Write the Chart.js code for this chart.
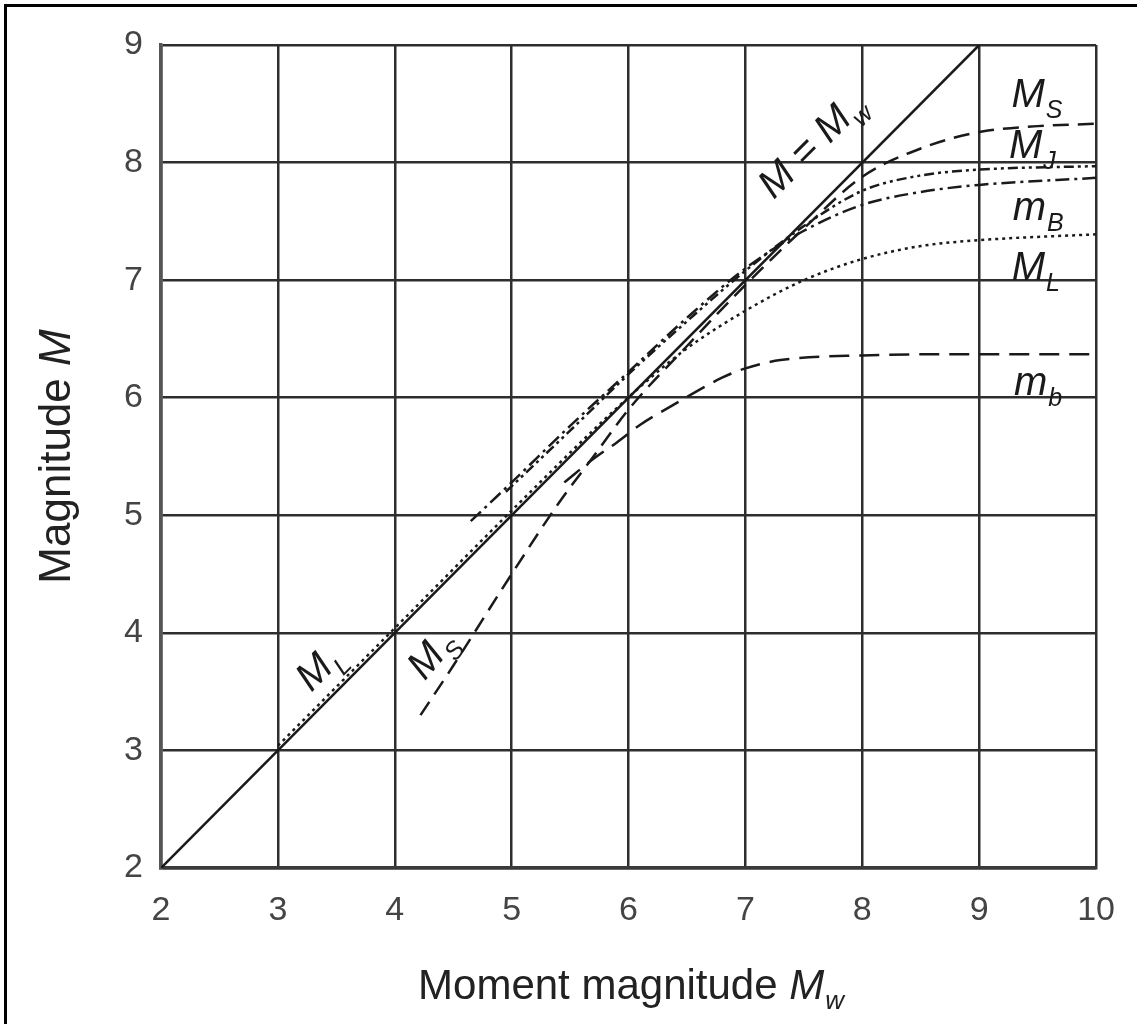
<!DOCTYPE html>
<html>
<head>
<meta charset="utf-8">
<title>Magnitude saturation</title>
<script src="https://cdn.jsdelivr.net/npm/chart.js@4.4.1/dist/chart.umd.min.js"></script>
<style>
  html, body { margin: 0; padding: 0; background: #fff; }
  #wrap { position: relative; width: 1137px; height: 1024px; }
  #frame { position: absolute; left: 4px; top: 4px; right: 0; bottom: 0;
           border-left: 3px solid #000; border-top: 3px solid #000; pointer-events: none; }
  canvas { display: block; }
</style>
</head>
<body>
<div id="wrap">
  <canvas id="chart" width="1137" height="1024"></canvas>
  <div id="frame"></div>
</div>
<script>
// ---- axis ticks ----
const xTicks = [2, 3, 4, 5, 6, 7, 8, 9, 10];
const yTicks = [2, 3, 4, 5, 6, 7, 8, 9];

// ---- curves (x = moment magnitude Mw, y = magnitude M) ----
// M = Mw reference
const mwX = [2, 9];
const mwY = [2, 9];
// Ms, surface-wave magnitude
const msX = [4.22, 4.5, 5.0, 5.4, 5.7, 6.0, 6.5, 7.0, 7.5, 8.0, 8.5, 9.0, 9.5, 10];
const msY = [3.30, 3.72, 4.50, 5.10, 5.50, 5.90, 6.44, 6.96, 7.44, 7.88, 8.12, 8.26, 8.31, 8.33];
// mb, short-period body-wave magnitude
const mbX = [5.45, 5.7, 5.9, 6.1, 6.35, 6.8, 7.0, 7.3, 8.0, 9.0, 10];
const mbY = [5.28, 5.48, 5.62, 5.77, 5.92, 6.17, 6.25, 6.32, 6.36, 6.37, 6.37];
// ML, local magnitude
const mlX = [3.0, 4.0, 5.0, 5.8, 6.2, 6.5, 7.0, 7.5, 8.0, 8.5, 9.0, 10];
const mlY = [3.04, 4.04, 5.04, 5.82, 6.18, 6.42, 6.74, 7.00, 7.18, 7.29, 7.34, 7.39];
// mB, long-period body-wave magnitude
const mBX = [4.65, 5.0, 5.5, 6.0, 6.5, 7.0, 7.5, 8.0, 8.5, 9.0, 10];
const mBY = [4.95, 5.28, 5.76, 6.22, 6.68, 7.10, 7.42, 7.64, 7.75, 7.81, 7.87];
// MJ, JMA magnitude
const mjX = [4.95, 5.5, 6.0, 6.5, 7.0, 7.5, 8.0, 8.5, 9.0, 10];
const mjY = [5.20, 5.72, 6.20, 6.65, 7.08, 7.46, 7.76, 7.89, 7.94, 7.97];

// curve names written on the plot: [main, subscript, x, y, angle in degrees]
const curveLabels = [
  ["M = M", "w", 7.57, 8.14, -45],
  ["M", "L", 3.36, 3.70, -45],
  ["M", "S", 4.32, 3.81, -50],
  ["M", "S", 9.49, 8.57, 0],
  ["M", "J", 9.45, 8.13, 0],
  ["m", "B", 9.50, 7.61, 0],
  ["M", "L", 9.48, 7.10, 0],
  ["m", "b", 9.50, 6.12, 0]
];

const FONT = '"Liberation Sans", Arial, Helvetica, sans-serif';
const INK = "#1a1a1a";

function pts(xs, ys) {
  return xs.map((x, i) => ({ x, y: ys[i] }));
}

function line(label, xs, ys, dash, width) {
  return {
    label,
    data: pts(xs, ys),
    showLine: true,
    borderColor: INK,
    borderWidth: width || 2.5,
    borderDash: dash,
    pointRadius: 0,
    cubicInterpolationMode: "monotone",
    fill: false
  };
}

// draws "M" + subscript in italics, centred at the current origin
function drawMag(ctx, main, sub, size) {
  const big = "italic " + size + "px " + FONT;
  const small = "italic " + Math.round(size * 0.62) + "px " + FONT;
  ctx.font = big;
  const w1 = ctx.measureText(main).width;
  ctx.font = small;
  const w2 = ctx.measureText(sub).width;
  let x = -(w1 + w2) / 2;
  ctx.textBaseline = "middle";
  ctx.textAlign = "left";
  ctx.font = big;
  ctx.fillText(main, x, 0);
  ctx.font = small;
  ctx.fillText(sub, x + w1 + 1, size * 0.38);
}

const textPlugin = {
  id: "magText",
  afterDraw(chart) {
    const { ctx, scales, chartArea } = chart;
    const xs = scales.x, ys = scales.y;
    ctx.save();
    ctx.fillStyle = INK;

    curveLabels.forEach(([main, sub, x, y, ang]) => {
      ctx.save();
      ctx.translate(xs.getPixelForValue(x), ys.getPixelForValue(y));
      ctx.rotate(ang * Math.PI / 180);
      drawMag(ctx, main, sub, 40);
      ctx.restore();
    });

    // x axis title
    ctx.save();
    ctx.fillStyle = "#222";
    const cx = (chartArea.left + chartArea.right) / 2 + 2;
    const ty = 987;
    const plain = "Moment magnitude ";
    ctx.font = "42px " + FONT;
    const wp = ctx.measureText(plain).width;
    ctx.font = "italic 42px " + FONT;
    const wm = ctx.measureText("M").width;
    ctx.font = "italic 26px " + FONT;
    const ww = ctx.measureText("w").width;
    let x0 = cx - (wp + wm + ww) / 2;
    ctx.textBaseline = "middle";
    ctx.textAlign = "left";
    ctx.font = "42px " + FONT;
    ctx.fillText(plain, x0, ty);
    ctx.font = "italic 42px " + FONT;
    ctx.fillText("M", x0 + wp, ty);
    ctx.font = "italic 26px " + FONT;
    ctx.fillText("w", x0 + wp + wm + 1, ty + 15);
    ctx.restore();

    // y axis title
    ctx.save();
    ctx.fillStyle = "#222";
    ctx.translate(58, (chartArea.top + chartArea.bottom) / 2);
    ctx.rotate(-Math.PI / 2);
    const yt = "Magnitude ";
    ctx.font = "44px " + FONT;
    const wy = ctx.measureText(yt).width;
    ctx.font = "italic 44px " + FONT;
    const wy2 = ctx.measureText("M").width;
    let y0 = -(wy + wy2) / 2;
    ctx.textBaseline = "middle";
    ctx.textAlign = "left";
    ctx.font = "44px " + FONT;
    ctx.fillText(yt, y0, 0);
    ctx.font = "italic 44px " + FONT;
    ctx.fillText("M", y0 + wy, 0);
    ctx.restore();

    ctx.restore();
  }
};

const gridStyle = { color: "#2e2e2e", lineWidth: 2.5, drawTicks: false };
const tickFont = { family: FONT, size: 34 };

new Chart(document.getElementById("chart").getContext("2d"), {
  type: "scatter",
  data: {
    datasets: [
      line("M = Mw", mwX, mwY, [], 2.5),
      line("Ms", msX, msY, [16, 9]),
      line("mb", mbX, mbY, [20, 10]),
      line("ML", mlX, mlY, [3, 4]),
      line("mB", mBX, mBY, [14, 5, 3, 5]),
      line("MJ", mjX, mjY, [10, 4, 3, 4, 3, 4])
    ]
  },
  options: {
    responsive: false,
    animation: false,
    events: [],
    layout: { padding: { top: 45, right: 32, left: 0, bottom: 0 } },
    plugins: { legend: { display: false }, tooltip: { enabled: false } },
    scales: {
      x: {
        type: "linear",
        min: 2,
        max: 10,
        afterBuildTicks: s => { s.ticks = xTicks.map(v => ({ value: v })); },
        afterFit: s => { s.height = 156; },
        grid: gridStyle,
        border: { color: "#3a3a3a", width: 3.5 },
        ticks: { padding: 22, color: "#444", font: tickFont }
      },
      y: {
        type: "linear",
        min: 2,
        max: 9,
        afterBuildTicks: s => { s.ticks = yTicks.map(v => ({ value: v })); },
        afterFit: s => { s.width = 161; },
        grid: gridStyle,
        border: { color: "#555", width: 3.5 },
        ticks: { padding: 18, color: "#444", font: tickFont }
      }
    }
  },
  plugins: [textPlugin]
});
</script>
</body>
</html>
